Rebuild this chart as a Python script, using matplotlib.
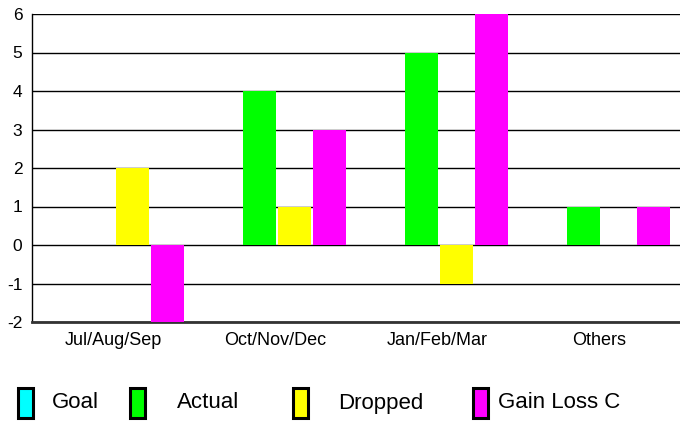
import matplotlib
matplotlib.use("Agg")
import matplotlib.pyplot as plt
from matplotlib.patches import Rectangle
import numpy as np

categories = ["Jul/Aug/Sep", "Oct/Nov/Dec", "Jan/Feb/Mar", "Others"]
series_names = ["Goal", "Actual", "Dropped", "Gain Loss C"]
goal = [0, 0, 0, 0]
actual = [0, 4, 5, 1]
dropped = [2, 1, -1, 0]
gain_loss = [-2, 3, 6, 1]
colors = ["#00FFFF", "#00FF00", "#FFFF00", "#FF00FF"]
y_ticks = [-2, -1, 0, 1, 2, 3, 4, 5, 6]

plt.rcParams['font.family'] = ['Liberation Sans', 'DejaVu Sans']

W, H = 680, 421
fig = plt.figure(figsize=(W / 100, H / 100), dpi=100)
ax = fig.add_axes([32 / W, 1 - 322 / H, (680 - 32) / W, (322 - 14) / H])

x = np.arange(len(categories))
slot = 35 / 162
bw = 33 / 162
shift = 0.012
all_series = [goal, actual, dropped, gain_loss]
for i, (vals, c) in enumerate(zip(all_series, colors)):
    ax.bar(x + shift + (i - 1.5) * slot, vals, width=bw, color=c, zorder=3, linewidth=0)

ax.set_xlim(-0.5, len(categories) - 0.5)
ax.set_ylim(y_ticks[0], y_ticks[-1])
ax.set_yticks(y_ticks)
ax.set_yticklabels([str(v) for v in y_ticks])
ax.set_xticks(x)
ax.set_xticklabels(categories)
ax.tick_params(axis='y', length=0, pad=7, labelsize=12.5)
ax.tick_params(axis='x', length=0, pad=7, labelsize=13)

for v in y_ticks:
    ax.axhline(v, color='black', lw=1.0, zorder=1)

for s in ['top', 'right']:
    ax.spines[s].set_visible(False)
ax.spines['left'].set_color('black')
ax.spines['left'].set_linewidth(1.0)
ax.spines['bottom'].set_color('#333333')
ax.spines['bottom'].set_linewidth(2.0)

# legend drawn manually
marker_x = [18, 130, 293, 473]
text_x = [52, 177, 338, 498]
for name, c, mx, tx in zip(series_names, colors, marker_x, text_x):
    fig.patches.append(Rectangle((mx / W, 1 - 418 / H), 15 / W, 30 / H,
                                 transform=fig.transFigure, facecolor=c,
                                 edgecolor='black', linewidth=2.2))
    fig.text(tx / W, 1 - 403 / H, name, fontsize=16, va='center', ha='left')

fig.savefig("out.png", dpi=100)
